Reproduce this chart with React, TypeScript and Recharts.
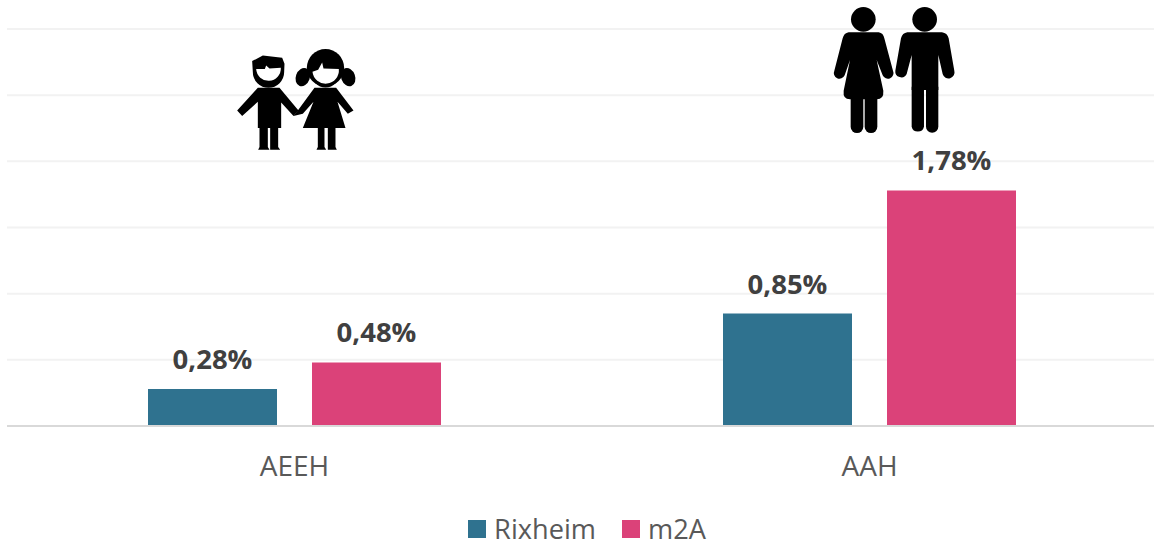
import { BarChart, Bar, XAxis, YAxis, CartesianGrid, Legend, LabelList, ReferenceDot } from "recharts";

const categories = ["AEEH", "AAH"];
const rixheim = [0.28, 0.85];
const m2a = [0.48, 1.78];
const yTicks = [0, 0.5, 1, 1.5, 2, 2.5, 3];

const data = categories.map((name, i) => ({ name, rixheim: rixheim[i], m2a: m2a[i] }));

const FONT = "'Open Sans', sans-serif";
const TEAL = "#2f728f";
const PINK = "#db4279";

const formatPct = (v: number) => v.toFixed(2).replace(".", ",") + "%";

// Pictograms, drawn in the zoomed crop's units (3x) around an anchor from the chart scales
function Children({ cx, cy }: { cx?: number; cy?: number }) {
  return (
    <g transform={`translate(${(cx ?? 0) - 75},${(cy ?? 0) - 70}) scale(0.3333)`} fill="#000">
      {/* boy */}
      <path d="M98 92 L130 75 L188 82 L195 100 L194 125 A47 47 0 0 1 100 125 Z" />
      <path d="M110 116 L136 116 L140 105 L150 114 L184 112 A37 37 0 1 1 110 116 Z" fill="#fff" />
      <path d="M115 172 L180 172 L237 240 L222 257 L185 216 L185 293 L176 293 L176 350 L182 358 L152 358 L152 293 L145 293 L145 350 L150 358 L116 358 L120 350 L120 293 L115 293 L115 214 L68 257 L53 240 Z" />
      {/* girl */}
      <circle cx="318" cy="112" r="56" />
      <ellipse cx="250" cy="140" rx="21" ry="28" transform="rotate(20 250 140)" />
      <ellipse cx="386" cy="140" rx="21" ry="28" transform="rotate(-20 386 140)" />
      <circle cx="318" cy="128" r="43" />
      <path d="M279 124 L296 118 L308 96 L312 114 L358 116 A39 39 0 1 1 279 124 Z" fill="#fff" />
      <path d="M285 172 L350 172 L402 240 L385 250 L354 214 L378 293 L348 293 L348 350 L352 358 L325 358 L325 293 L315 293 L315 350 L320 358 L291 358 L295 350 L295 293 L250 293 L282 214 L250 250 L222 257 L235 240 Z" />
    </g>
  );
}

function Adults({ cx, cy }: { cx?: number; cy?: number }) {
  return (
    <g transform={`translate(${(cx ?? 0) - 49.500},${(cy ?? 0) - 70}) scale(0.3333)`} fill="#000" stroke="none">
      {/* woman */}
      <circle cx="130" cy="58" r="37" />
      <path d="M86 97 L176 97 Q190 99 193 115 L219 212 A17 17 0 0 1 188 226 L170 180 L190 272 Q192 298 170 298 L90 298 Q68 298 71 272 L90 180 L74 226 A17 17 0 0 1 43 212 L68 115 Q72 99 86 97 Z" />
      <path d="M92 290 L130 290 L130 380 A19 19 0 0 1 92 380 Z" />
      <path d="M134 290 L172 290 L172 380 A19 19 0 0 1 134 380 Z" />
      {/* man */}
      <circle cx="314" cy="58" r="37" />
      <path d="M262 97 L366 97 Q382 99 386 115 L403 212 A18 18 0 0 1 368 222 L355 165 L355 270 L275 270 L275 165 L260 222 A18 18 0 0 1 226 212 L243 115 Q247 99 262 97 Z" />
      <path d="M275 260 L312 265 L312 380 A19 19 0 0 1 275 380 Z" />
      <path d="M318 265 L355 260 L355 380 A18.500 18.500 0 0 1 318 380 Z" />
    </g>
  );
}

function LegendRow() {
  return (
    <div style={{ display: "flex", justifyContent: "center", alignItems: "center", fontFamily: FONT, fontSize: 27.200, color: "#595959", paddingLeft: 10 }}>
      <span style={{ width: 18, height: 18, background: TEAL, marginRight: 8 }} />
      <span style={{ marginRight: 26 }}>Rixheim</span>
      <span style={{ width: 18, height: 18, background: PINK, marginRight: 8 }} />
      <span>m2A</span>
    </div>
  );
}

export default function App() {
  return (
    <div style={{ position: "absolute", left: 0, top: 0, width: 1154, height: 547, background: "#fff" }}>
      <BarChart
        width={1154}
        height={547}
        data={data}
        margin={{ top: 29, right: -3, left: 7, bottom: 0 }}
        barSize={129}
        barGap={35}
      >
        <CartesianGrid vertical={false} stroke="#f2f2f2" strokeWidth={2} />
        <XAxis
          dataKey="name"
          height={84}
          tickLine={false}
          axisLine={{ stroke: "#d9d9d9", strokeWidth: 2 }}
          tick={{ fontFamily: FONT, fontSize: 28, fill: "#595959" }}
          tickMargin={24}
        />
        <YAxis hide width={0} domain={[0, 3]} ticks={yTicks} />
        <Bar dataKey="rixheim" fill={TEAL} isAnimationActive={false}>
          <LabelList dataKey="rixheim" position="top" offset={20} formatter={formatPct} style={{ fontFamily: FONT, fontSize: 27.500, fontWeight: 700, fill: "#404040" }} />
        </Bar>
        <Bar dataKey="m2a" fill={PINK} isAnimationActive={false}>
          <LabelList dataKey="m2a" position="top" offset={20} formatter={formatPct} style={{ fontFamily: FONT, fontSize: 27.500, fontWeight: 700, fill: "#404040" }} />
        </Bar>
        <Legend content={<LegendRow />} verticalAlign="bottom" wrapperStyle={{ bottom: 0 }} />
        <ReferenceDot x="AEEH" y={2.46} ifOverflow="visible" shape={(p: any) => <Children cx={p.cx} cy={p.cy} />} />
        <ReferenceDot x="AAH" y={2.69} ifOverflow="visible" shape={(p: any) => <Adults cx={p.cx} cy={p.cy} />} />
      </BarChart>
    </div>
  );
}
